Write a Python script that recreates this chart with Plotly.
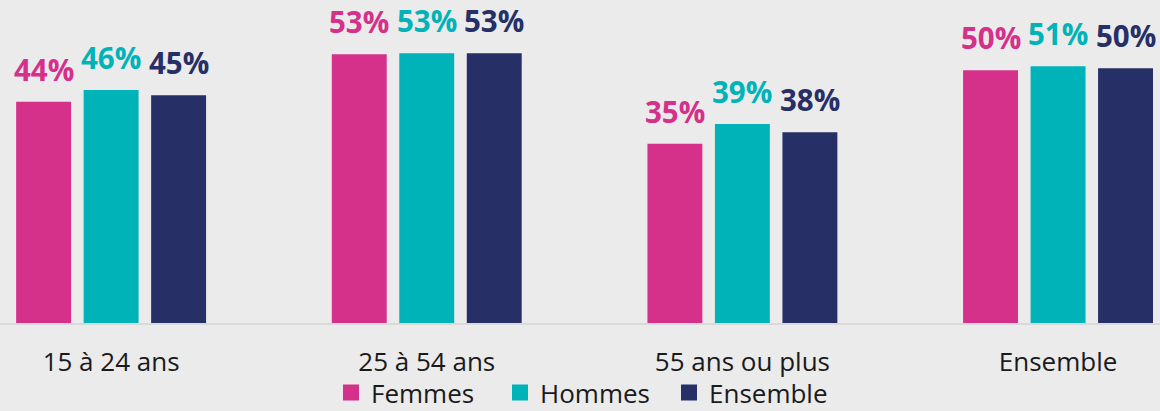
import plotly.graph_objects as go

categories = ["15 à 24 ans", "25 à 54 ans", "55 ans ou plus", "Ensemble"]
series_names = ["Femmes", "Hommes", "Ensemble"]
femmes = [43.7, 53.1, 35.4, 49.9]
hommes = [46.0, 53.3, 39.3, 50.7]
ensemble = [45.0, 53.3, 37.7, 50.3]
series_values = [femmes, hommes, ensemble]
colors = ["#D5308A", "#00B3B8", "#263066"]

FONT = "Open Sans"
BARGAP = 0.3585
BARGROUPGAP = 0.186

fig = go.Figure()
for name, vals, col in zip(series_names, series_values, colors):
    fig.add_trace(go.Bar(
        x=categories, y=vals, name=name,
        marker=dict(color=col, line=dict(width=0)),
        showlegend=False,
    ))
    fig.add_trace(go.Scatter(
        x=[None], y=[None], mode="markers", name=name,
        marker=dict(symbol="square", size=16, color=col),
        showlegend=True,
    ))

slot = (1 - BARGAP) / 3
for j, (vals, col) in enumerate(zip(series_values, colors)):
    for i, v in enumerate(vals):
        fig.add_annotation(
            x=i + (j - 1) * slot, y=v, xref="x", yref="y",
            text=f"<b>{round(v)}%</b>", showarrow=False,
            yanchor="bottom", yshift=10,
            font=dict(family=FONT, size=29.5, color=col),
        )

fig.update_layout(
    width=1160, height=411,
    margin=dict(l=0, r=0, t=0, b=88, autoexpand=False),
    paper_bgcolor="#EBEBEB", plot_bgcolor="#EBEBEB",
    barmode="group", bargap=BARGAP, bargroupgap=BARGROUPGAP,
    font=dict(family=FONT, color="#1A1A1A"),
    legend=dict(
        orientation="h", x=331 / 1160, xanchor="left", y=-0.143, yanchor="top",
        font=dict(family=FONT, size=26, color="#1A1A1A"),
        bgcolor="rgba(0,0,0,0)", itemclick=False,
        entrywidth=124, entrywidthmode="pixels",
    ),
    xaxis=dict(
        type="category", range=[-0.352, 3.323],
        showline=True, linecolor="#D9D9D9", linewidth=2,
        showgrid=False, ticks="", ticklabelstandoff=15,
        tickfont=dict(family=FONT, size=26, color="#1A1A1A"),
        fixedrange=True,
    ),
    yaxis=dict(
        range=[0, 63.8], visible=False, showgrid=False, zeroline=False,
        fixedrange=True,
    ),
)

fig.write_html(
    "out.html",
    config={"displayModeBar": False},
    post_script="document.body.style.margin='0';document.body.style.overflow='hidden';",
)
